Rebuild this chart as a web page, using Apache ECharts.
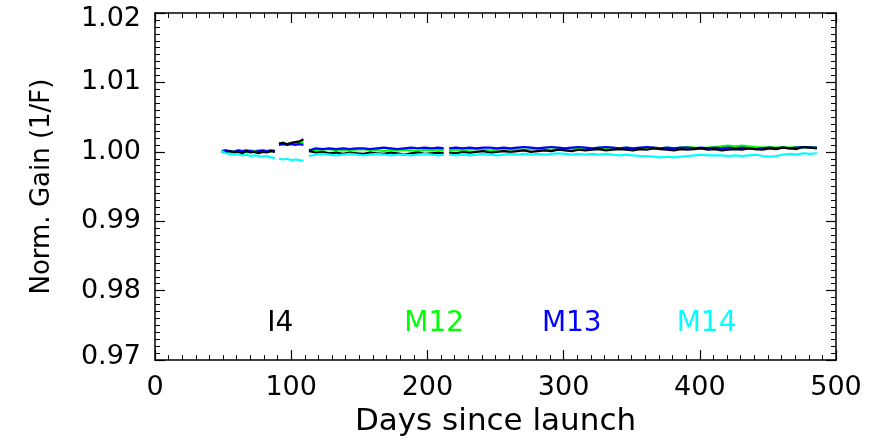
<!DOCTYPE html>
<html>
<head>
<meta charset="utf-8">
<script src="https://cdn.jsdelivr.net/npm/echarts@6/dist/echarts.min.js"></script>
<style>
html,body{margin:0;padding:0;background:#fff;}
#chart{width:881px;height:442px;}
</style>
</head>
<body>
<div id="chart"></div>
<script>
// Days since launch (null values break the lines)
const days = [49,52,55,58,61,64,67,70,73,76,79,82,85,88, 89.5,
  91,94,97,100,103,106,109, 111,
  113,118,123,128,133,138,143,148,153,158,163,168,173,178,183,188,193,198,203,208,212, 214,
  216,221,226,231,236,241,246,251,256,261,266,271,276,281,286,291,296,301,306,311,316,321,326,331,336,341,346,351,356,361,366,371,376,381,386,391,396,401,406,411,416,421,426,431,436,441,446,451,456,461,466,471,476,481,486];

const i4 = [1.0000,0.9999,1.0001,0.9999,1.0000,0.9998,1.0001,0.9999,1.0000,0.9998,1.0000,0.9999,1.0001,1.0000, null,
  1.0012,1.0013,1.0011,1.0013,1.0014,1.0015,1.0018, null,
  1.0001,0.9999,1.0000,0.9998,0.9999,0.9997,0.9999,0.9998,0.9997,0.9999,0.9998,0.9997,0.9999,0.9998,0.9996,0.9998,0.9999,0.9997,0.9998,0.9999,0.9998, null,
  0.9999,0.9998,1.0000,0.9999,1.0000,1.0001,0.9999,1.0000,1.0001,1.0000,
  1.0001,1.0002,1.0000,1.0001,1.0002,1.0001,1.0003,1.0002,1.0001,1.0003,
  1.0002,1.0003,1.0004,1.0002,1.0003,1.0004,1.0003,1.0002,1.0004,1.0003,
  1.0005,1.0004,1.0003,1.0002,1.0004,1.0003,1.0004,1.0005,1.0003,1.0004,
  1.0002,1.0003,1.0004,1.0003,1.0005,1.0004,1.0003,1.0005,1.0004,1.0006,
  1.0005,1.0004,1.0007,1.0006,1.0005];

const m12 = [1.0001,1.0002,1.0000,1.0001,1.0002,1.0001,1.0000,1.0002,1.0001,1.0002,1.0001,1.0000,1.0001,1.0002, null,
  1.0012,1.0013,1.0011,1.0012,1.0013,1.0012,1.0014, null,
  1.0003,1.0002,1.0003,1.0004,1.0002,1.0003,1.0002,1.0003,1.0004,1.0002,1.0003,1.0001,1.0003,1.0002,1.0003,1.0002,1.0001,1.0003,1.0002,1.0003,1.0002, null,
  1.0002,1.0003,1.0002,1.0003,1.0004,1.0003,1.0002,1.0003,1.0004,1.0003,
  1.0004,1.0003,1.0004,1.0005,1.0004,1.0003,1.0005,1.0004,1.0005,1.0004,
  1.0005,1.0004,1.0006,1.0005,1.0004,1.0005,1.0006,1.0005,1.0004,1.0005,
  1.0006,1.0005,1.0006,1.0005,1.0006,1.0007,1.0006,1.0005,1.0006,1.0007,
  1.0008,1.0009,1.0008,1.0009,1.0008,1.0007,1.0006,1.0007,1.0006,1.0007,
  1.0006,1.0007,1.0006,1.0007,1.0006];

const m13 = [1.0001,1.0002,1.0001,1.0000,1.0002,1.0001,1.0002,1.0001,1.0000,1.0001,1.0002,1.0001,1.0002,1.0001, null,
  1.0010,1.0011,1.0010,1.0011,1.0010,1.0011,1.0010, null,
  1.0002,1.0005,1.0004,1.0005,1.0004,1.0005,1.0004,1.0005,1.0005,1.0004,1.0005,1.0006,1.0005,1.0004,1.0005,1.0006,1.0005,1.0006,1.0005,1.0006,1.0005, null,
  1.0005,1.0006,1.0005,1.0006,1.0005,1.0006,1.0006,1.0005,1.0006,1.0005,
  1.0006,1.0007,1.0006,1.0005,1.0006,1.0007,1.0006,1.0005,1.0006,1.0007,
  1.0006,1.0005,1.0006,1.0007,1.0006,1.0005,1.0006,1.0005,1.0006,1.0007,
  1.0006,1.0005,1.0006,1.0005,1.0006,1.0006,1.0005,1.0006,1.0005,1.0006,
  1.0005,1.0006,1.0005,1.0006,1.0005,1.0004,1.0005,1.0006,1.0005,1.0006,
  1.0005,1.0006,1.0007,1.0006,1.0006];

const m14 = [1.0001,0.9998,0.9997,0.9996,0.9997,0.9995,0.9996,0.9994,0.9995,0.9994,0.9993,0.9994,0.9992,0.9991, null,
  0.9990,0.9989,0.9990,0.9988,0.9989,0.9988,0.9987, null,
  0.9994,0.9996,0.9997,0.9996,0.9995,0.9996,0.9997,0.9996,0.9995,0.9996,0.9997,0.9996,0.9995,0.9996,0.9996,0.9995,0.9996,0.9997,0.9996,0.9995,0.9996, null,
  0.9996,0.9995,0.9996,0.9995,0.9996,0.9997,0.9996,0.9995,0.9996,0.9997,
  0.9996,0.9997,0.9996,0.9997,0.9996,0.9997,0.9998,0.9997,0.9996,0.9997,
  0.9996,0.9997,0.9996,0.9997,0.9996,0.9995,0.9996,0.9995,0.9994,0.9994,
  0.9993,0.9992,0.9993,0.9992,0.9993,0.9994,0.9995,0.9996,0.9995,0.9995,
  0.9995,0.9994,0.9995,0.9994,0.9995,0.9996,0.9994,0.9993,0.9994,0.9996,
  0.9997,0.9996,0.9998,0.9997,0.9998];

// Band labels written inside the plot
const bandNames = ['I4','M12','M13','M14'];
const bandDays = [92,205,306,405];
const bandLabelValue = 0.9753;

const colors = {I4:'#000000', M12:'#00ff00', M13:'#0000ff', M14:'#00ffff'};

const xTicks = {min:0, max:500, interval:100};
const yTicks = {min:0.97, max:1.02, interval:0.01};

const FONT = 'DejaVu Sans';
const chart = echarts.init(document.getElementById('chart'), null, {renderer:'canvas'});

function pairs(vals){ return days.map((d,i)=>[d, vals[i]]); }

const axisLine = {show:true, onZero:false, lineStyle:{color:'#000', width:1.5}};
const tick = {show:true, inside:true, length:10, lineStyle:{color:'#000', width:1.2}};
const minor = {show:true, splitNumber:10, length:5, lineStyle:{color:'#000', width:1}};

function yFmt(v){
  const s = v.toFixed(2);
  if (Math.abs(v - yTicks.min) < 1e-9) return '{lo|' + s + '}';
  if (Math.abs(v - yTicks.max) < 1e-9) return '{hi|' + s + '}';
  return s;
}

const lineSeries = (name, vals) => ({
  name, type:'line', xAxisIndex:0, yAxisIndex:0,
  data: pairs(vals), showSymbol:false, symbol:'none', connectNulls:false,
  lineStyle:{color:colors[name], width:2.2}, itemStyle:{color:colors[name]},
  animation:false, z:2
});

chart.setOption({
  backgroundColor:'#ffffff',
  animation:false,
  grid:{left:155, right:45, top:13, bottom:74, containLabel:false},
  xAxis:[
    {type:'value', position:'bottom', min:xTicks.min, max:xTicks.max, interval:xTicks.interval,
     name:'Days since launch', nameLocation:'middle', nameGap:42,
     nameTextStyle:{fontFamily:FONT, fontSize:31, color:'#000'},
     axisLine, axisTick:tick, minorTick:minor, splitLine:{show:false},
     axisLabel:{fontFamily:FONT, fontSize:27, color:'#000', margin:14}},
    {type:'value', position:'top', min:xTicks.min, max:xTicks.max, interval:xTicks.interval,
     axisLine, axisTick:tick, minorTick:minor, splitLine:{show:false}, axisLabel:{show:false}}
  ],
  yAxis:[
    {type:'value', position:'left', min:yTicks.min, max:yTicks.max, interval:yTicks.interval,
     name:'Norm. Gain (1/F)', nameLocation:'middle', nameGap:100, nameRotate:90,
     nameTextStyle:{fontFamily:FONT, fontSize:26, color:'#000'},
     axisLine, axisTick:tick, minorTick:minor, splitLine:{show:false},
     axisLabel:{fontFamily:FONT, fontSize:27, color:'#000', margin:14, formatter:yFmt,
       rich:{
         lo:{fontFamily:FONT, fontSize:27, color:'#000', padding:[0,0,6,0]},
         hi:{fontFamily:FONT, fontSize:27, color:'#000', padding:[12,0,0,0]}
       }}},
    {type:'value', position:'right', min:yTicks.min, max:yTicks.max, interval:yTicks.interval,
     axisLine, axisTick:tick, minorTick:minor, splitLine:{show:false}, axisLabel:{show:false}}
  ],
  series:[
    lineSeries('M12', m12),
    lineSeries('M13', m13),
    lineSeries('I4', i4),
    lineSeries('M14', m14),
    {
      type:'scatter', xAxisIndex:0, yAxisIndex:0, symbolSize:0, silent:true,
      itemStyle:{opacity:1},
      data: bandNames.map((n,i)=>({name:n, value:[bandDays[i], bandLabelValue],
        label:{show:true, position:'inside', formatter:n, fontFamily:FONT, fontSize:28, color:colors[n], opacity:1}})),
      z:3
    }
  ]
});
</script>
</body>
</html>
